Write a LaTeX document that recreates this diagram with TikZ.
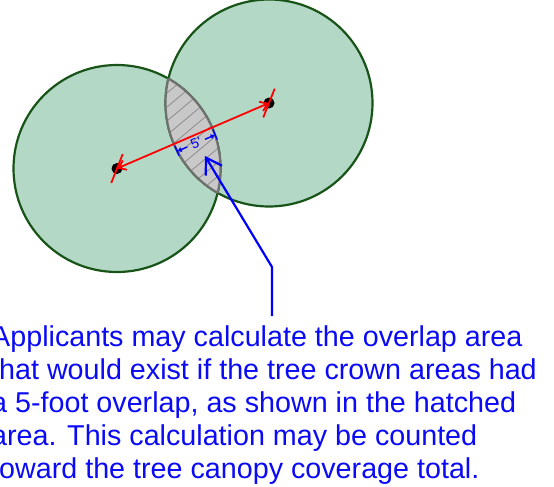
\documentclass[tikz,border=0pt]{standalone}
\usepackage{fontspec}
\setmainfont{Liberation Sans}
\usetikzlibrary{arrows.meta,calc}
\definecolor{crown}{RGB}{179,217,198}
\definecolor{crownline}{RGB}{24,84,24}
\definecolor{lensfill}{RGB}{200,200,200}
\definecolor{lensline}{RGB}{112,112,112}
\definecolor{hatchc}{RGB}{140,140,140}
\definecolor{txtblue}{RGB}{10,10,245}
\begin{document}
\begin{tikzpicture}[x=1pt,y=-1pt,
  crownfill/.style={fill=crown},
  crownedge/.style={draw=crownline,line width=2.2pt},
  lensedge/.style={draw=lensline,line width=2.2pt},
  hatchline/.style={draw=hatchc,line width=0.8pt},
  redline/.style={draw=red,line width=1.8pt},
  dimline/.style={draw=blue,line width=1.4pt},
  leader/.style={draw=blue,line width=2.2pt},
  notetext/.style={anchor=base west,inner sep=0pt,text=txtblue,font=\fontsize{28.7}{33}\selectfont}]
\useasboundingbox (0,0) rectangle (554,487);
\clip (0,0) rectangle (554,487);
\def\rad{103.5pt}
\coordinate (L) at (117,168.5);
\coordinate (R) at (269,103);
% crowns
\fill[crownfill] (L) circle (\rad);
\fill[crownfill] (R) circle (\rad);
\draw[crownedge] (L) circle (\rad);
\draw[crownedge] (R) circle (\rad);
% lens
\begin{scope}
  \clip (L) circle (\rad);
  \clip (R) circle (\rad);
  \fill[lensfill] (0,0) rectangle (554,487);
  \foreach \k in {0,...,22} {
    \draw[hatchline] (130,{40+14*\k}) -- ++(130,-109);
  }
\end{scope}
\begin{scope}
  \clip (L) circle (\rad);
  \draw[lensedge] (R) circle (\rad);
\end{scope}
\begin{scope}
  \clip (R) circle (\rad);
  \draw[lensedge] (L) circle (\rad);
\end{scope}
% centre dots
\fill[black] (L) circle (5.5pt);
\fill[black] (R) circle (5.5pt);
% red centre line
\draw[redline,{Straight Barb[length=7pt,width=10pt]}-{Straight Barb[length=7pt,width=10pt]}] (L) -- (R);
\draw[redline] ($(L)!15.5pt!45:(R)$) -- ($(L)!-15.5pt!45:(R)$);
\draw[redline] ($(R)!15.5pt!-135:(L)$) -- ($(R)!-15.5pt!-135:(L)$);
% 5' dimension
\coordinate (P1) at ($(R)!\rad!(L)$);
\coordinate (P2) at ($(L)!\rad!(R)$);
\draw[dimline] ($(P1)!2pt!-90:(R)$) -- ($(P1)!13pt!-90:(R)$);
\draw[dimline] ($(P2)!2pt!90:(L)$) -- ($(P2)!13pt!90:(L)$);
\coordinate (D1) at ($(P1)!8pt!-90:(R)$);
\coordinate (D2) at ($(P2)!8pt!90:(L)$);
\path (D1) -- (D2) node[midway,sloped,inner sep=0pt,text=blue,font=\fontsize{14}{14}\selectfont] (dimtxt) {5\textquotesingle};
\draw[dimline,-{Latex[length=4.5pt,width=5.5pt]}] ($(D1)!0.27!(D2)$) -- (D1);
\draw[dimline,-{Latex[length=4.5pt,width=5.5pt]}] ($(D1)!0.73!(D2)$) -- (D2);
% leader
\coordinate (c0) at (272,316);
\coordinate (c1) at (272,267);
\coordinate (tip) at (205,156);
\draw[leader,-{Straight Barb[length=15pt,width=19pt]}] (c0) -- (c1) -- (tip);
% note
\node[notetext] (t1) at (-9,346) {Applicants may calculate the overlap area};
\node[notetext] (t2) at (-9,379) {that would exist if the tree crown areas had};
\node[notetext] (t3) at (-9,412) {a 5-foot overlap, as shown in the hatched};
\node[notetext] (t4) at (-9,445) {area. This calculation may be counted};
\node[notetext] (t5) at (-9,478) {toward the tree canopy coverage total.};
\end{tikzpicture}
\end{document}
